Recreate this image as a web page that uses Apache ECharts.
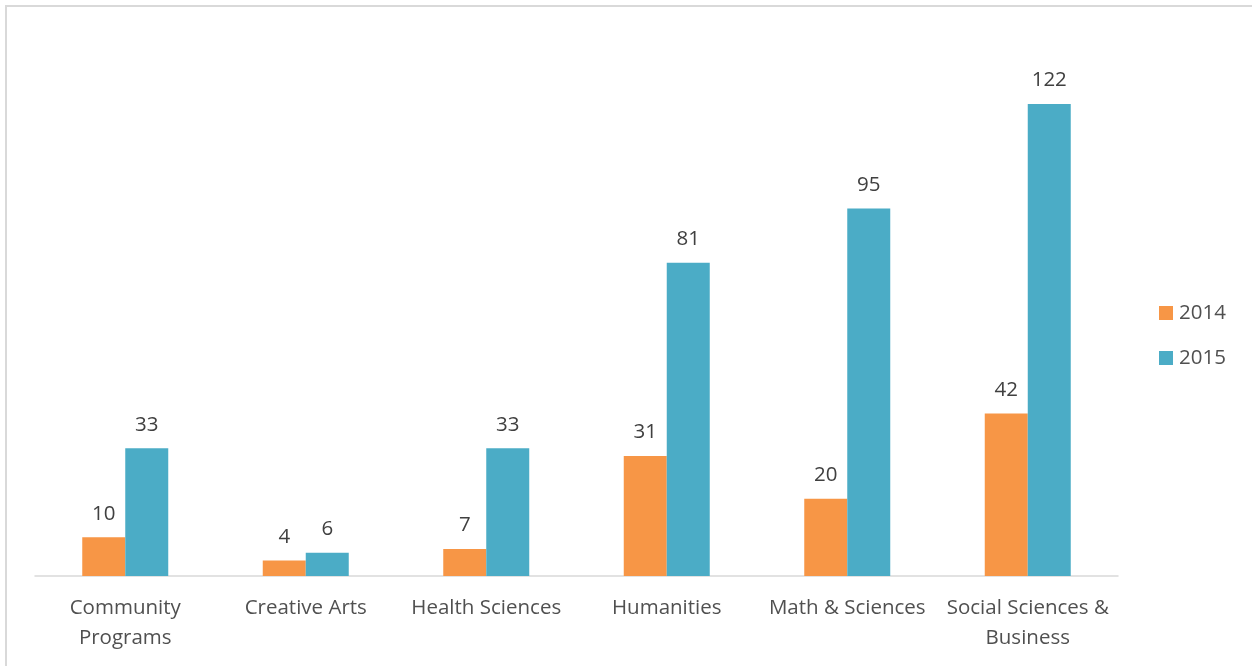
<!DOCTYPE html>
<html>
<head>
<meta charset="utf-8">
<script src="https://cdn.jsdelivr.net/npm/echarts@6/dist/echarts.min.js"></script>
<style>
  html, body { margin: 0; padding: 0; background: #fff; }
  #chart { width: 1252px; height: 666px; }
</style>
</head>
<body>
<div id="chart"></div>
<script>
// Enrolment counts by division, 2014 vs 2015
const categories = ['Community\nPrograms', 'Creative Arts', 'Health Sciences', 'Humanities', 'Math & Sciences', 'Social Sciences &\nBusiness'];
const values2014 = [10, 4, 7, 31, 20, 42];
const values2015 = [33, 6, 33, 81, 95, 122];
const seriesNames = ['2014', '2015'];

const FONT = 'Open Sans';
const chart = echarts.init(document.getElementById('chart'), null, { renderer: 'canvas' });

const labelStyle = {
  show: true,
  position: 'top',
  distance: 13,
  color: '#404040',
  fontFamily: FONT,
  fontSize: 20.5
};

chart.setOption({
  backgroundColor: '#ffffff',
  animation: false,
  graphic: [{
    type: 'rect',
    shape: { x: 6, y: 6, width: 1400, height: 800 },
    style: { fill: 'none', stroke: '#d9d9d9', lineWidth: 2 },
    silent: true
  }],
  legend: {
    orient: 'vertical',
    left: 1159,
    top: 301,
    padding: 0,
    itemWidth: 14,
    itemHeight: 14,
    itemGap: 21,
    icon: 'rect',
    textStyle: { color: '#505050', fontFamily: FONT, fontSize: 20.5, lineHeight: 24, padding: [0, 0, 0, 1] },
    data: seriesNames
  },
  grid: { left: 35, right: 134, top: 34.4, bottom: 90, containLabel: false },
  xAxis: {
    type: 'category',
    data: categories,
    axisLine: { lineStyle: { color: '#d9d9d9', width: 1.5 } },
    axisTick: { show: false },
    axisLabel: {
      color: '#505050',
      fontFamily: FONT,
      fontSize: 20.5,
      lineHeight: 30,
      margin: 17,
      interval: 0
    }
  },
  yAxis: {
    type: 'value',
    min: 0,
    max: 140,
    interval: 20,
    show: false,
    splitLine: { show: false }
  },
  series: [
    {
      name: seriesNames[0],
      type: 'bar',
      data: values2014,
      barWidth: 43,
      barGap: '0%',
      itemStyle: { color: '#F79646' },
      label: labelStyle
    },
    {
      name: seriesNames[1],
      type: 'bar',
      data: values2015,
      barWidth: 43,
      barGap: '0%',
      itemStyle: { color: '#4BACC6' },
      label: labelStyle
    }
  ]
});
</script>
</body>
</html>
